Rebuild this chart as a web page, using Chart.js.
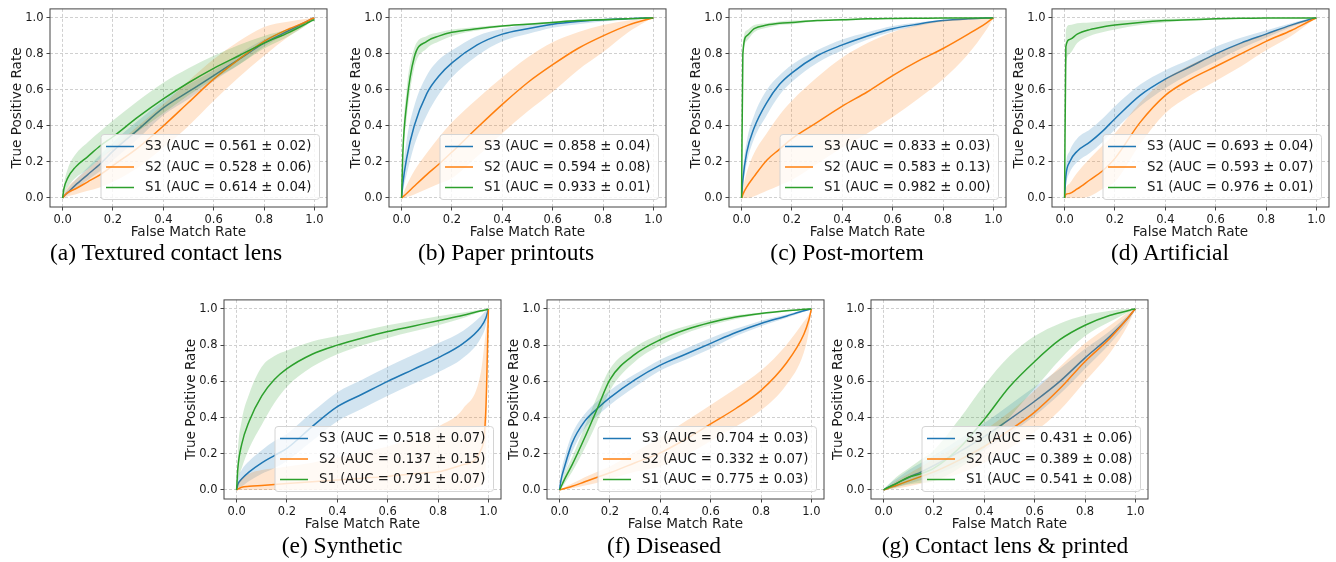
<!DOCTYPE html>
<html>
<head>
<meta charset="utf-8">
<script src="https://cdn.jsdelivr.net/npm/chart.js@4/dist/chart.umd.min.js"></script>
<style>
  body { margin: 0; background: #fff; width: 1336px; height: 562px; position: relative; overflow: hidden; }
  canvas { position: absolute; }
  .cap { position: absolute; font-family: "Liberation Serif", "Times New Roman", serif; font-size: 23.5px; line-height: 1;
         color: #000; white-space: nowrap; transform: translate(-50%, -50%); }
</style>
</head>
<body>
<script>
// shared false match rate grid
const FMR = [0, 0.005, 0.02, 0.05, 0.1, 0.15, 0.2, 0.3, 0.4, 0.5, 0.6, 0.7, 0.8, 0.9, 0.97, 0.99, 1];

// (a) Textured contact lens
const a_s3    = [0, 0.01, 0.03, 0.07, 0.13, 0.19, 0.26, 0.38, 0.50, 0.59, 0.68, 0.77, 0.86, 0.93, 0.98, 0.995, 1];
const a_s3_hi = [0, 0.02, 0.05, 0.10, 0.17, 0.24, 0.31, 0.43, 0.54, 0.63, 0.71, 0.80, 0.88, 0.94, 0.985, 0.997, 1];
const a_s3_lo = [0, 0.005, 0.02, 0.05, 0.10, 0.15, 0.21, 0.33, 0.46, 0.55, 0.65, 0.74, 0.84, 0.92, 0.975, 0.993, 1];
const a_s2    = [0, 0.01, 0.03, 0.05, 0.09, 0.13, 0.18, 0.28, 0.40, 0.53, 0.66, 0.77, 0.87, 0.94, 0.98, 0.995, 1];
const a_s2_hi = [0, 0.02, 0.06, 0.10, 0.16, 0.22, 0.28, 0.40, 0.52, 0.65, 0.77, 0.87, 0.95, 0.98, 0.995, 0.999, 1];
const a_s2_lo = [0, 0, 0.01, 0.02, 0.04, 0.06, 0.09, 0.17, 0.28, 0.40, 0.54, 0.67, 0.79, 0.90, 0.965, 0.99, 1];
const a_s1    = [0, 0.05, 0.11, 0.17, 0.23, 0.29, 0.34, 0.45, 0.55, 0.64, 0.72, 0.79, 0.86, 0.92, 0.97, 0.985, 0.99];
const a_s1_hi = [0, 0.07, 0.16, 0.24, 0.31, 0.37, 0.43, 0.54, 0.64, 0.72, 0.79, 0.85, 0.90, 0.94, 0.98, 0.99, 1];
const a_s1_lo = [0, 0.02, 0.06, 0.11, 0.16, 0.22, 0.27, 0.37, 0.47, 0.57, 0.66, 0.74, 0.83, 0.90, 0.96, 0.98, 0.98];
const a_auc = ["0.561 ± 0.02", "0.528 ± 0.06", "0.614 ± 0.04"];

// (b) Paper printouts
const b_s3    = [0, 0.08, 0.22, 0.40, 0.58, 0.68, 0.75, 0.85, 0.91, 0.94, 0.965, 0.98, 0.99, 0.996, 0.999, 1, 1];
const b_s3_hi = [0, 0.13, 0.32, 0.51, 0.68, 0.77, 0.82, 0.90, 0.94, 0.965, 0.98, 0.99, 0.995, 0.998, 1, 1, 1];
const b_s3_lo = [0, 0.04, 0.13, 0.29, 0.46, 0.58, 0.67, 0.79, 0.87, 0.91, 0.945, 0.965, 0.98, 0.99, 0.997, 0.999, 1];
const b_s2    = [0, 0.006, 0.025, 0.065, 0.13, 0.19, 0.255, 0.39, 0.52, 0.64, 0.74, 0.83, 0.90, 0.96, 0.99, 0.997, 1];
const b_s2_hi = [0, 0.02, 0.07, 0.15, 0.25, 0.34, 0.42, 0.55, 0.67, 0.78, 0.865, 0.92, 0.96, 0.985, 0.997, 0.999, 1];
const b_s2_lo = [0, 0, 0.005, 0.02, 0.05, 0.08, 0.11, 0.23, 0.36, 0.48, 0.59, 0.71, 0.81, 0.92, 0.98, 0.995, 1];
const b_s1    = [0, 0.25, 0.52, 0.78, 0.87, 0.90, 0.92, 0.94, 0.955, 0.965, 0.975, 0.985, 0.99, 0.995, 0.999, 1, 1];
const b_s1_hi = [0, 0.30, 0.60, 0.83, 0.90, 0.92, 0.935, 0.95, 0.96, 0.97, 0.98, 0.99, 0.995, 0.998, 1, 1, 1];
const b_s1_lo = [0, 0.20, 0.44, 0.72, 0.83, 0.87, 0.90, 0.93, 0.95, 0.96, 0.97, 0.98, 0.985, 0.993, 0.998, 1, 1];
const b_auc = ["0.858 ± 0.04", "0.594 ± 0.08", "0.933 ± 0.01"];

// (c) Post-mortem
const c_s3    = [0, 0.10, 0.25, 0.39, 0.53, 0.63, 0.695, 0.79, 0.85, 0.90, 0.94, 0.965, 0.985, 0.995, 0.999, 1, 1];
const c_s3_hi = [0, 0.14, 0.31, 0.46, 0.60, 0.68, 0.74, 0.82, 0.88, 0.92, 0.955, 0.975, 0.99, 0.997, 1, 1, 1];
const c_s3_lo = [0, 0.06, 0.19, 0.33, 0.46, 0.57, 0.645, 0.75, 0.82, 0.88, 0.925, 0.955, 0.98, 0.99, 0.998, 1, 1];
const c_s2    = [0, 0.02, 0.06, 0.12, 0.21, 0.27, 0.33, 0.42, 0.51, 0.59, 0.68, 0.76, 0.83, 0.91, 0.97, 0.99, 1];
const c_s2_hi = [0, 0.05, 0.14, 0.25, 0.36, 0.46, 0.54, 0.67, 0.78, 0.86, 0.92, 0.96, 0.985, 0.997, 1, 1, 1];
const c_s2_lo = [0, 0, 0, 0.01, 0.04, 0.07, 0.10, 0.19, 0.28, 0.36, 0.45, 0.55, 0.66, 0.80, 0.93, 0.975, 1];
const c_s1    = [0, 0.80, 0.90, 0.94, 0.96, 0.97, 0.975, 0.985, 0.99, 0.995, 0.997, 0.998, 0.999, 1, 1, 1, 1];
const c_s1_hi = [0, 0.84, 0.93, 0.96, 0.97, 0.98, 0.985, 0.99, 0.995, 0.997, 0.998, 0.999, 1, 1, 1, 1, 1];
const c_s1_lo = [0, 0.75, 0.87, 0.92, 0.945, 0.96, 0.965, 0.98, 0.985, 0.99, 0.995, 0.997, 0.998, 1, 1, 1, 1];
const c_auc = ["0.833 ± 0.03", "0.583 ± 0.13", "0.982 ± 0.00"];

// (d) Artificial
const d_s3    = [0, 0.12, 0.20, 0.26, 0.31, 0.37, 0.44, 0.57, 0.66, 0.73, 0.80, 0.86, 0.91, 0.96, 0.99, 0.997, 1];
const d_s3_hi = [0, 0.17, 0.26, 0.33, 0.38, 0.44, 0.51, 0.63, 0.71, 0.77, 0.84, 0.89, 0.93, 0.97, 0.995, 0.999, 1];
const d_s3_lo = [0, 0.07, 0.14, 0.20, 0.25, 0.31, 0.38, 0.51, 0.61, 0.69, 0.76, 0.83, 0.89, 0.95, 0.985, 0.995, 1];
const d_s2    = [0, 0.02, 0.025, 0.05, 0.10, 0.15, 0.22, 0.42, 0.57, 0.66, 0.73, 0.80, 0.87, 0.93, 0.98, 0.993, 1];
const d_s2_hi = [0, 0.05, 0.08, 0.14, 0.22, 0.29, 0.36, 0.53, 0.66, 0.74, 0.80, 0.86, 0.91, 0.96, 0.99, 0.997, 1];
const d_s2_lo = [0, 0, 0, 0, 0.01, 0.05, 0.09, 0.30, 0.47, 0.57, 0.65, 0.73, 0.82, 0.90, 0.97, 0.99, 1];
const d_s1    = [0, 0.84, 0.88, 0.91, 0.935, 0.95, 0.96, 0.975, 0.985, 0.99, 0.995, 0.998, 1, 1, 1, 1, 1];
const d_s1_hi = [0, 0.93, 0.96, 0.97, 0.975, 0.98, 0.985, 0.99, 0.995, 0.997, 0.999, 1, 1, 1, 1, 1, 1];
const d_s1_lo = [0, 0.72, 0.80, 0.86, 0.90, 0.92, 0.935, 0.96, 0.975, 0.985, 0.99, 0.995, 0.998, 1, 1, 1, 1];
const d_auc = ["0.693 ± 0.04", "0.593 ± 0.07", "0.976 ± 0.01"];

// (e) Synthetic
const e_s3    = [0, 0.03, 0.06, 0.10, 0.15, 0.19, 0.23, 0.35, 0.46, 0.53, 0.60, 0.665, 0.73, 0.81, 0.90, 0.95, 1];
const e_s3_hi = [0, 0.06, 0.11, 0.16, 0.22, 0.27, 0.31, 0.43, 0.54, 0.61, 0.68, 0.745, 0.81, 0.88, 0.96, 0.99, 1];
const e_s3_lo = [0, 0.01, 0.02, 0.05, 0.09, 0.12, 0.16, 0.27, 0.38, 0.45, 0.52, 0.585, 0.65, 0.73, 0.84, 0.91, 1];
const e_s2    = [0, 0.005, 0.015, 0.02, 0.025, 0.03, 0.035, 0.045, 0.055, 0.065, 0.075, 0.09, 0.10, 0.14, 0.22, 0.45, 1];
const e_s2_hi = [0, 0.03, 0.06, 0.09, 0.11, 0.12, 0.13, 0.15, 0.18, 0.21, 0.24, 0.29, 0.35, 0.45, 0.65, 0.88, 1];
const e_s2_lo = [0, 0, 0, 0, 0, 0, 0, 0, 0, 0, 0, 0, 0, 0, 0.02, 0.10, 1];
const e_s1    = [0, 0.12, 0.25, 0.38, 0.52, 0.61, 0.67, 0.75, 0.80, 0.84, 0.875, 0.905, 0.935, 0.965, 0.99, 0.995, 1];
const e_s1_hi = [0, 0.20, 0.38, 0.53, 0.68, 0.74, 0.77, 0.82, 0.85, 0.88, 0.91, 0.935, 0.96, 0.98, 0.995, 0.998, 1];
const e_s1_lo = [0, 0.05, 0.12, 0.23, 0.36, 0.48, 0.57, 0.68, 0.75, 0.80, 0.84, 0.875, 0.91, 0.95, 0.985, 0.99, 1];
const e_auc = ["0.518 ± 0.07", "0.137 ± 0.15", "0.791 ± 0.07"];

// (f) Diseased
const f_s3    = [0, 0.05, 0.13, 0.26, 0.38, 0.45, 0.51, 0.61, 0.69, 0.75, 0.81, 0.87, 0.92, 0.96, 0.99, 0.997, 1];
const f_s3_hi = [0, 0.08, 0.18, 0.31, 0.42, 0.49, 0.55, 0.64, 0.72, 0.78, 0.84, 0.89, 0.935, 0.97, 0.993, 0.998, 1];
const f_s3_lo = [0, 0.03, 0.09, 0.21, 0.34, 0.41, 0.47, 0.57, 0.66, 0.72, 0.78, 0.85, 0.905, 0.95, 0.985, 0.995, 1];
const f_s2    = [0, 0.002, 0.008, 0.02, 0.045, 0.07, 0.095, 0.15, 0.205, 0.28, 0.365, 0.45, 0.55, 0.70, 0.86, 0.94, 1];
const f_s2_hi = [0, 0.004, 0.015, 0.035, 0.07, 0.10, 0.13, 0.21, 0.29, 0.38, 0.47, 0.56, 0.66, 0.80, 0.93, 0.97, 1];
const f_s2_lo = [0, 0, 0.003, 0.01, 0.025, 0.04, 0.06, 0.10, 0.13, 0.19, 0.27, 0.35, 0.44, 0.58, 0.76, 0.88, 1];
const f_s1    = [0, 0.015, 0.06, 0.14, 0.29, 0.45, 0.61, 0.75, 0.83, 0.885, 0.925, 0.955, 0.975, 0.99, 0.998, 1, 1];
const f_s1_hi = [0, 0.025, 0.09, 0.18, 0.35, 0.52, 0.67, 0.79, 0.86, 0.905, 0.94, 0.965, 0.98, 0.993, 1, 1, 1];
const f_s1_lo = [0, 0.005, 0.035, 0.10, 0.23, 0.38, 0.55, 0.71, 0.80, 0.865, 0.91, 0.945, 0.97, 0.985, 0.996, 1, 1];
const f_auc = ["0.704 ± 0.03", "0.332 ± 0.07", "0.775 ± 0.03"];

// (g) Contact lens & printed
const g_s3    = [0, 0.004, 0.015, 0.035, 0.07, 0.10, 0.135, 0.21, 0.295, 0.39, 0.49, 0.60, 0.73, 0.85, 0.95, 0.985, 1];
const g_s3_hi = [0, 0.01, 0.03, 0.06, 0.11, 0.15, 0.19, 0.28, 0.37, 0.47, 0.57, 0.67, 0.78, 0.88, 0.965, 0.99, 1];
const g_s3_lo = [0, 0, 0.005, 0.015, 0.035, 0.055, 0.08, 0.14, 0.22, 0.31, 0.41, 0.53, 0.67, 0.81, 0.93, 0.975, 1];
const g_s2    = [0, 0.002, 0.01, 0.025, 0.05, 0.075, 0.10, 0.165, 0.24, 0.33, 0.43, 0.56, 0.71, 0.84, 0.95, 0.985, 1];
const g_s2_hi = [0, 0.005, 0.02, 0.05, 0.09, 0.13, 0.17, 0.25, 0.33, 0.43, 0.55, 0.68, 0.81, 0.91, 0.98, 0.995, 1];
const g_s2_lo = [0, 0, 0.003, 0.008, 0.02, 0.035, 0.05, 0.09, 0.15, 0.23, 0.32, 0.44, 0.60, 0.76, 0.91, 0.97, 1];
const g_s1    = [0, 0.005, 0.015, 0.035, 0.07, 0.09, 0.12, 0.23, 0.39, 0.57, 0.71, 0.83, 0.91, 0.965, 0.99, 0.998, 1];
const g_s1_hi = [0, 0.01, 0.03, 0.07, 0.12, 0.17, 0.22, 0.39, 0.58, 0.74, 0.85, 0.92, 0.965, 0.99, 1, 1, 1];
const g_s1_lo = [0, 0, 0.005, 0.015, 0.03, 0.04, 0.05, 0.12, 0.23, 0.40, 0.56, 0.72, 0.85, 0.93, 0.98, 0.995, 1];
const g_auc = ["0.431 ± 0.06", "0.389 ± 0.08", "0.541 ± 0.08"];

const X_LABEL = "False Match Rate";
const Y_LABEL = "True Positive Rate";

const COLORS = { S3: "#1f77b4", S2: "#ff7f0e", S1: "#2ca02c" };
const FILLS = { S3: "rgba(31,119,180,0.2)", S2: "rgba(255,127,14,0.2)", S1: "rgba(44,160,44,0.2)" };

Chart.defaults.font.family = '"DejaVu Sans", sans-serif';
Chart.defaults.color = "#1a1a1a";

const pts = (ys) => FMR.map((x, i) => ({ x: x, y: ys[i] }));

const makeSets = (name, mean, hi, lo, auc) => [
    { label: `${name} (AUC = ${auc})`, data: pts(mean), borderColor: COLORS[name], borderWidth: 1.5, fill: false },
    { data: pts(hi), borderWidth: 0, borderColor: "rgba(0,0,0,0)", backgroundColor: FILLS[name], fill: "+1" },
    { data: pts(lo), borderWidth: 0, borderColor: "rgba(0,0,0,0)", fill: false },
];

const axis = (title, dir) => ({
    type: "linear",
    min: -0.05,
    max: 1.05,
    ticks: {
        stepSize: 0.2,
        includeBounds: false,
        autoSkip: false,
        maxRotation: 0,
        padding: 3,
        color: "#1a1a1a",
        font: { size: 11.5 },
        callback: (v) => v.toFixed(1),
    },
    grid: { color: "#d0d0d0", lineWidth: 1, drawTicks: true, tickLength: 3.5, tickColor: "#444", tickWidth: 1, tickBorderDash: [] },
    border: { display: false, dash: [3, 2] },
    title: {
        display: true,
        text: title,
        color: "#1a1a1a",
        font: { size: 13.6 },
        padding: dir === "y" ? { top: 9, bottom: 0 } : { top: 0, bottom: 0 },
    },
    afterFit: (scale) => {
        if (dir === "y") scale.width = 50;
        else scale.height = 34;
    },
});

// axes frame (all four spines)
const frame = {
    id: "frame",
    afterDatasetsDraw(chart) {
        const { ctx, chartArea: a } = chart;
        ctx.save();
        ctx.strokeStyle = "#444";
        ctx.lineWidth = 1;
        ctx.strokeRect(a.left, a.top, a.width, a.height);
        ctx.restore();
    },
};

// matplotlib-like legend, lower right inside the axes
const legendBox = {
    id: "legendBox",
    afterDraw(chart) {
        const { ctx, chartArea: a } = chart;
        const items = chart.data.datasets.filter((d) => d.label).reverse();
        ctx.save();
        ctx.font = '13.3px "DejaVu Sans"';
        const textW = Math.max(...items.map((d) => ctx.measureText(d.label).width));
        const rowH = 20.5;
        const w = 44 + textW + 8;
        const h = rowH * (items.length - 1) + 24;
        const x = a.right - 7.5 - w;
        const y = a.bottom - 7.5 - h;
        ctx.beginPath();
        ctx.roundRect(x, y, w, h, 3);
        ctx.fillStyle = "rgba(255,255,255,0.8)";
        ctx.fill();
        ctx.strokeStyle = "#d4d4d4";
        ctx.lineWidth = 1;
        ctx.stroke();
        items.forEach((d, i) => {
            const cy = y + 12 + i * rowH;
            ctx.strokeStyle = d.borderColor;
            ctx.lineWidth = 1.5;
            ctx.beginPath();
            ctx.moveTo(x + 5, cy);
            ctx.lineTo(x + 33, cy);
            ctx.stroke();
            ctx.fillStyle = "#1a1a1a";
            ctx.textBaseline = "middle";
            ctx.fillText(d.label, x + 44, cy + 0.5);
        });
        ctx.restore();
    },
};

const panels = [
    { left: 0,    top: -1,  h: 242, capX: 166,  capY: 253, cap: "(a) Textured contact lens", s3: [a_s3, a_s3_hi, a_s3_lo], s2: [a_s2, a_s2_hi, a_s2_lo], s1: [a_s1, a_s1_hi, a_s1_lo], auc: a_auc },
    { left: 339,  top: -1,  h: 242, capX: 506,  capY: 253, cap: "(b) Paper printouts", s3: [b_s3, b_s3_hi, b_s3_lo], s2: [b_s2, b_s2_hi, b_s2_lo], s1: [b_s1, b_s1_hi, b_s1_lo], auc: b_auc },
    { left: 679,  top: -1,  h: 242, capX: 847,  capY: 253, cap: "(c) Post-mortem", s3: [c_s3, c_s3_hi, c_s3_lo], s2: [c_s2, c_s2_hi, c_s2_lo], s1: [c_s1, c_s1_hi, c_s1_lo], auc: c_auc },
    { left: 1002, top: -1,  h: 242, capX: 1170, capY: 253, cap: "(d) Artificial", s3: [d_s3, d_s3_hi, d_s3_lo], s2: [d_s2, d_s2_hi, d_s2_lo], s1: [d_s1, d_s1_hi, d_s1_lo], auc: d_auc },
    { left: 174,  top: 290, h: 243, capX: 342,  capY: 546, cap: "(e) Synthetic", s3: [e_s3, e_s3_hi, e_s3_lo], s2: [e_s2, e_s2_hi, e_s2_lo], s1: [e_s1, e_s1_hi, e_s1_lo], auc: e_auc },
    { left: 497,  top: 290, h: 243, capX: 664,  capY: 546, cap: "(f) Diseased", s3: [f_s3, f_s3_hi, f_s3_lo], s2: [f_s2, f_s2_hi, f_s2_lo], s1: [f_s1, f_s1_hi, f_s1_lo], auc: f_auc },
    { left: 821,  top: 290, h: 243, capX: 1005, capY: 546, cap: "(g) Contact lens & printed", s3: [g_s3, g_s3_hi, g_s3_lo], s2: [g_s2, g_s2_hi, g_s2_lo], s1: [g_s1, g_s1_hi, g_s1_lo], auc: g_auc },
];

const drawPanel = (p) => {
    const cv = document.createElement("canvas");
    cv.width = 335;
    cv.height = p.h;
    cv.style.left = p.left + "px";
    cv.style.top = p.top + "px";
    document.body.appendChild(cv);

    const cap = document.createElement("div");
    cap.className = "cap";
    cap.textContent = p.cap;
    cap.style.left = p.capX + "px";
    cap.style.top = p.capY + "px";
    document.body.appendChild(cap);

    // S3 is drawn first and S1 last (on top), like the original plot order
    const datasets = [
        ...makeSets("S1", p.s1[0], p.s1[1], p.s1[2], p.auc[2]),
        ...makeSets("S2", p.s2[0], p.s2[1], p.s2[2], p.auc[1]),
        ...makeSets("S3", p.s3[0], p.s3[1], p.s3[2], p.auc[0]),
    ];

    new Chart(cv.getContext("2d"), {
        type: "line",
        data: { datasets: datasets },
        options: {
            responsive: false,
            animation: false,
            events: [],
            layout: { padding: { top: 4, right: 8, bottom: 0, left: 0 } },
            elements: { point: { radius: 0 }, line: { cubicInterpolationMode: "monotone" } },
            plugins: { legend: { display: false }, tooltip: { enabled: false } },
            scales: { x: axis(X_LABEL, "x"), y: axis(Y_LABEL, "y") },
        },
        plugins: [frame, legendBox],
    });
};

panels.forEach(drawPanel);
</script>
</body>
</html>
